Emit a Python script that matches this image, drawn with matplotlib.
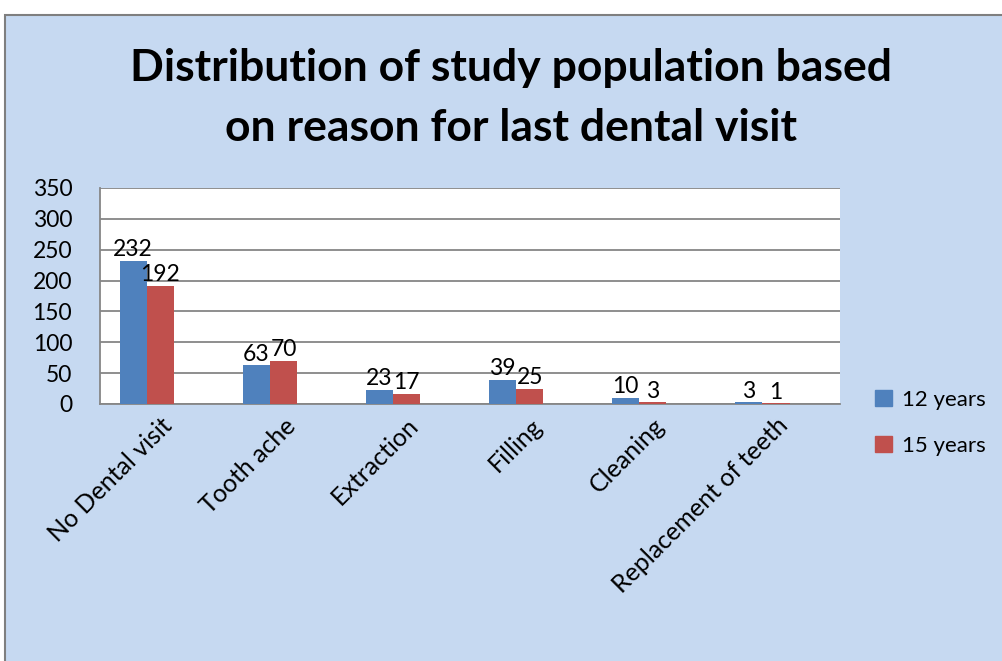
import matplotlib
matplotlib.use("Agg")
import matplotlib.pyplot as plt
import numpy as np
from matplotlib.patches import Rectangle, Patch
from matplotlib.transforms import ScaledTranslation

# Reasons for last dental visit, counts per age group
reasons = ["No Dental visit", "Tooth ache", "Extraction", "Filling",
           "Cleaning", "Replacement of teeth"]
age_12 = [232, 63, 23, 39, 10, 3]
age_15 = [192, 70, 17, 25, 3, 1]
series_names = ["12 years", "15 years"]

BLUE = "#4F81BD"
RED = "#C0504D"
BG = "#C6D9F1"
GRID = "#868686"

plt.rcParams["font.family"] = ["Lato", "DejaVu Sans"]

W, H = 1003, 661
fig = plt.figure(figsize=(W / 100, H / 100), dpi=100)
fig.patch.set_facecolor("white")

# chart area frame
fig.patches.append(Rectangle((5 / W, -0.05), 1.1, (H - 15) / H + 0.05,
                             transform=fig.transFigure, facecolor=BG,
                             edgecolor="#7F7F7F", linewidth=1.5, zorder=-5))

fig.text(511 / W, 1 - 68 / H, "Distribution of study population based",
         ha="center", va="center", fontsize=32, fontweight="bold")
fig.text(511 / W, 1 - 128 / H, "on reason for last dental visit",
         ha="center", va="center", fontsize=32, fontweight="bold")

ax = fig.add_axes([100 / W, 1 - 404 / H, 740 / W, 216 / H])
ax.set_facecolor("white")

x = np.arange(len(reasons))
bw = 0.22
ax.bar(x - bw / 2, age_12, bw, color=BLUE, zorder=3)
ax.bar(x + bw / 2, age_15, bw, color=RED, zorder=3)

for xi, v in zip(x, age_12):
    ax.text(xi - bw / 2, v + 1, str(v), ha="center", va="bottom", fontsize=16.5)
for xi, v in zip(x, age_15):
    ax.text(xi + bw / 2, v + 1, str(v), ha="center", va="bottom", fontsize=16.5)

ax.set_ylim(0, 350)
ax.set_xlim(-0.38, 5.63)
ax.set_yticks(np.arange(0, 351, 50))
ax.tick_params(axis="y", length=0, pad=20, labelsize=16.5)
ax.set_xticks([])
ax.grid(axis="y", color=GRID, linewidth=1.3, zorder=1)
for s in ["top", "right"]:
    ax.spines[s].set_visible(False)
for s in ["left", "bottom"]:
    ax.spines[s].set_color(GRID)
    ax.spines[s].set_linewidth(1.3)

# rotated category labels hanging under the axis
offset = ScaledTranslation(22 / 100, -18 / 100, fig.dpi_scale_trans)
for xi, name in zip(x, reasons):
    ax.text(xi, 0, name, rotation=45, ha="right", va="center",
            rotation_mode="anchor", fontsize=18,
            transform=ax.transData + offset, clip_on=False)

handles = [Patch(color=BLUE), Patch(color=RED)]
fig.legend(handles, series_names, loc="upper left",
           bbox_to_anchor=(855 / W, 1 - 370 / H), frameon=False,
           fontsize=16, handlelength=0.75, handleheight=0.75,
           handletextpad=0.45, labelspacing=1.15)

fig.savefig("out.png", dpi=100, facecolor=fig.get_facecolor())
